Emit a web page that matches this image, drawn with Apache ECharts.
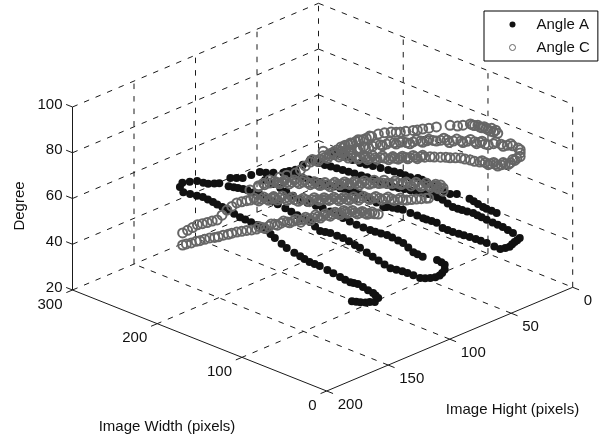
<!DOCTYPE html>
<html><head><meta charset="utf-8">
<style>html,body{margin:0;padding:0;background:#fff}#c{width:600px;height:441px}</style>
<script src="https://cdn.jsdelivr.net/npm/echarts@6/dist/echarts.min.js"></script>
</head><body><div id="c"></div>
<script>
// axis ticks
const widthTicks=[300,200,100,0];
const heightTicks=[0,50,100,150,200];
const degreeTicks=[20,40,60,80,100];
// Angle A: runs of constant image height, pairs are [width, degree]
const a1H=154;
const a1=[[37,43.4],[32,43.9],[27,44.4],[21,45.2],[16,46.1],[10,47],[6,49.3],[9,50],[12,50.6],[18,51],[24,51.5],[30,51.9],[35,51.6],[39,51.4],[45,51.6],[51,51.9],[59,52.4],[66,52.8],[75,53.2],[81,53.2],[87,53.2],[93,53.6],[98,54.1],[105,54.6],[114,55.3],[120,56.3],[128,57.6],[133,58.6],[137,59.7],[143,60],[149,60.2],[156,60.4],[163,60.6],[169,60.7],[176,61.1],[183,61.6],[190,62],[196,62.3],[201,62.6],[207,62.8],[213,63],[220,62.5],[228,62.1],[236,61.7],[240,63.4]];
const a2H=102;
const a2=[[258,49.3],[252,49.8],[247,50.2],[241,50.6],[236,50.9],[229,50.9],[221,51],[214,50.8],[207,50.4],[200,50],[191,49.6],[184,49.1],[177,48.6],[170,48.2],[162,47.8],[156,46.7],[150,45.7],[144,46.1],[138,46.5],[130,46.5],[123,46.6],[116,46.2],[109,45.6],[103,45.2],[95,44.4],[88,43.5],[81,42.9],[74,42.2],[67,41.6],[60,42],[53,42.3],[47,42.4],[40,42.5],[32,42.5],[26,43.3],[20,44.2],[14,45.5],[9,47],[6,48.5],[3,50.5],[3,52.5],[7,53],[12,53.3],[29,52.2],[35,52.4],[40,52.6],[46,53.7],[52,54.8],[58,55],[65,55.3],[71,55.5],[78,55.2],[85,54.9],[91,54.8],[99,54.7],[107,54.7],[115,55],[123,55.3],[130,55.6],[138,55.9],[147,56.2],[155,56],[165,55.8],[174,55.7],[182,56.3],[190,56.9],[197,57.5],[206,58],[215,58.4]];
const a3H=41;
const a3=[[3,50.4],[6,49],[9,47.8],[12,46.3],[15,44.8],[20,43.5],[26,42.2],[33,42.3],[42,42.5],[49,42.4],[55,42.3],[62,42.2],[69,41.9],[75,41.7],[82,41.4],[88,41.4],[94,41.4],[101,42.6],[107,42.5],[113,42.3],[117,42.3],[124,42.4],[132,42.3],[141,42.4],[147,42],[153,41.5],[160,40.8],[164,40.2],[172,41],[178,41.4],[183,41.8],[191,41.9],[197,41.9],[203,41.9],[209,41.5],[215,41],[222,40.7],[230,40.5],[239,40.2],[246,39.8],[252,39.3],[259,39],[266,38.8],[273,38.6],[280,38.5],[11,51.4],[17,51.8],[23,52.3],[29,52.4],[35,52.5],[42,52.6],[48,52.8],[53,53],[58,53.2],[65,52.9],[71,52.6],[76,52.5],[82,52.3],[88,53],[94,53.7],[100,53.9],[105,54.1],[111,53.7],[117,53.3],[125,52.8],[132,52.3],[139,51.8],[146,51.2],[153,50.7],[160,50.6],[168,50.6],[176,50.5],[183,50.5],[190,50.2],[198,49.9],[205,49.6],[212,49.4],[219,49.1],[226,48.8],[233,48.5],[240,48.3],[250,48.1]];
const a4H=15;
const a4=[[68,45.9],[74,46],[80,46],[84,46.1],[90,46.6],[95,47],[100,47.4],[115,47.3],[123,46.1],[130,46.4],[137,46.8],[143,47.1],[150,47.2],[156,47.4],[161,47.5],[170,46.5],[176,46.5],[182,46.6],[189,46.2],[196,45.8],[205,45.4],[214,44.9],[222,44.4],[229,44],[238,44],[247,44],[255,44],[262,43.9]];
// Angle A: run of constant image width, pairs are [height, degree]
const a5W=240;
const a5=[[152,64.8],[146,63.9],[140,62.9],[135,61],[131,59.6],[126,58.6],[122,57.8],[113,58.1],[108,56.9],[103,55.8],[96,55.5],[89,55.2],[84,53.8],[78,52.4],[70,50.6],[65,50.2],[60,49.7],[54,50.5],[48,51.3]];
// Angle C: runs of constant image width, pairs are [height, degree]
const c1W=170;
const c1=[[200,58.8],[197,58.6],[193,58.1],[189,57.9],[186,57.5],[182,57.2],[178,56.9],[174,56.2],[171,55.8],[167,55.6],[163,55.1],[160,54.9],[156,54.5],[152,53.9],[148,53.4],[144,52.7],[140,52.2],[135,51.7],[130,51.1],[125,50.8],[120,50.2],[115,49.6],[110,48.9],[106,48.4],[102,47.7],[98,47.1],[94,46.6],[90,46.3],[86,45.7],[82,45.1],[78,44.6],[74,44.1],[71,43.6],[68,43.3],[64,42.4],[60,41.3],[56,40.2],[52,39.2],[48,38.1],[44,37.1],[41,36.3]];
const c1b=[[138,52.8],[133,50.8],[128,51.7],[123,50],[118,50.7],[113,48.8],[108,49.3],[104,47],[100,48.3],[96,46],[92,47.4],[88,45.2],[84,46.1],[80,44.2],[76,45],[72,43],[69,44.2],[66,42.3],[62,42.6],[58,40.2],[54,40.4],[50,38.2],[46,38.3]];
const c2=[[200,64.1],[196,64.3],[192,64.6],[188,64.9],[184,64.5],[180,64.1],[176,63.8],[172,63.4],[168,64.6],[164,65.9],[160,66.6],[156,67.2],[152,66.8],[148,66.4],[145,66],[140,65],[136,64.4],[132,63.6],[128,62.9],[125,62.2],[121,61.4],[117,60.4],[113,59.2],[109,58],[104,56.8],[99,55.6],[95,54.8],[91,54],[87,53.1],[83,52.3],[79,51.4],[75,50.6],[71,49.7],[67,48.8],[63,48],[59,47.2],[55,46.4],[50,45.4],[45,44.2],[40,43],[35,41.7],[30,40.4],[25,39],[21,37.9],[18,37.2],[14,36.5],[10,35.8],[6,35.1],[2,34.4],[0,34]];
const c2b=[[142,66.2],[138,64],[134,64.8],[130,62.5],[126,63.2],[123,61],[119,61.9],[115,59],[111,59.5],[106,56.6],[102,57],[97,54.4],[93,55.2],[89,53],[85,53.4],[81,51.3],[77,51.8],[73,49.4],[69,50],[65,47.8],[61,48.4],[57,46],[53,46.8],[48,44.2],[43,44.4],[38,41.8],[33,41.9],[28,39.2],[23,39.2]];
const c3W=153;
const c3=[[0,40.9],[3,41.9],[6,43],[8,43.6],[12,44.6],[16,45.7],[20,46.9],[24,48],[29,49.5],[33,50.5],[37,51.4],[41,52.2],[45,53.2],[49,54.2],[53,55.2],[57,56],[62,57.1],[66,58.1],[70,58.9],[74,59.7],[78,60.5],[82,61.3],[86,62],[90,62.9],[94,63.6],[98,64.7],[102,65.8],[106,67],[110,68.2],[114,69.3],[119,70.5],[123,71.3],[127,72.2],[131,73],[135,73.9],[141,75],[145,75.2],[150,75.4],[157,75.6],[150,75.9],[146,76.1],[141,76.4],[133,75.7],[127,75.3],[120,74.6],[116,75],[112,75.9]];
const c3b=[[137,74.9],[133,72.9],[129,73.5],[125,71],[121,71.8],[117,69.3],[113,70],[108,66.8],[104,67.1],[100,64.6],[96,65],[92,62.3],[88,63.3],[84,61.2],[80,61.7],[76,59.7],[72,60.1],[68,57.6],[64,58.5],[60,56.1],[56,57],[52,54.6],[48,55.2],[44,52.9],[39,52.8],[34,50.1],[30,50.3],[26,47.7],[22,48.4],[18,45.5],[14,46.2],[10,43.3],[6,43.9],[4,41.5],[2,42.6],[0,39.5]];
// Angle C: upper loop, triples are [width, height, degree]
const c4=[[150,110,77.6],[148,107,78],[146,105,78.3],[144,102,78.8],[142,100,79.2],[140,97,79.3],[137,94,78.9],[135,92,78.5],[133,89,78],[131,86,77.4],[129,84,76.8],[127,81,76.3],[125,79,76],[123,76,75.7],[121,73,75.4],[119,71,75.1],[116,68,74.8],[114,66,74.6],[112,63,74.4],[110,60,74.2],[108,58,74],[106,55,73.8],[104,52,73.5],[102,50,73.2],[100,47,73],[98,45,72.7],[95,42,72.4],[93,39,72],[91,37,71.6],[89,34,71.2],[87,31,70.8],[85,29,70.1],[83,26,69.3],[81,24,68.6],[79,21,67.9],[77,18,67.3],[74,16,66.7],[72,13,66.1],[70,10,65.5],[68,8,65.7],[66,5,65.9],[64,3,66.7],[62,0,69.6],[63,1,71.8]];
const c4b=[[149,109,78.6],[147,106,77.4],[145,103,79.5],[143,101,78.2],[141,98,80.2],[138,95,78.2],[136,93,79.5],[134,90,77.2],[132,88,78.8],[130,85,76.2],[128,82,77.4],[126,80,75.4],[124,77,76.7],[122,75,75],[120,72,76.1],[117,69,74.2],[115,67,75.4],[113,64,73.9],[111,62,75],[109,59,73.5],[107,56,74.6],[105,54,73],[103,51,74.1],[78,20,68.4],[75,17,66.4],[73,14,67],[71,12,65.3],[69,9,66.4],[67,6,65.2],[65,4,67.2],[63,2,67.6],[62,0,68],[62,0,71]];
const c5=[[65,4,73.2],[67,7,73.8],[70,10,74.5],[73,14,75.2],[76,19,75.8],[79,21,76.5],[81,24,77.2],[84,28,77.8],[87,31,78.2],[90,35,78.6],[93,38,79.3],[95,42,79.8],[98,46,80.2],[101,49,80.3],[104,52,80.4],[107,56,80.5],[109,60,80.8],[112,63,81.2],[115,66,81.2],[118,70,81.1],[121,73,81.1],[124,77,80.9],[127,81,80.7],[129,84,80.5],[131,85,80.4],[135,92,80.5],[137,94,80.6],[140,98,80.7]];
const c5b=[[66,5,74.2],[69,9,73.5],[72,13,75.9],[75,17,75.1],[78,20,76.9],[80,23,76.2],[83,26,78.3],[86,30,77.4],[89,33,79.2],[92,37,78.1],[94,40,80.4],[97,44,79.6],[100,48,80.9],[103,51,79.8],[106,54,81.1],[108,58,80],[111,62,81.6],[114,65,80.6],[117,68,81.8],[120,72,80.5],[123,75,81.6],[126,79,80.2],[128,82,81.2],[130,85,79.9],[133,90,81],[136,93,80],[139,96,81.3],[142,100,80.1],[145,103,81.5]];
const c6=[[137,94,82.5],[135,92,83.1],[133,89,83.7],[131,86,84],[129,84,84.4],[126,81,85],[124,78,85.4],[122,74,85.8],[119,71,86.1],[117,67,85.9],[114,65,85.7],[112,63,85.6],[110,60,85.6],[107,56,85.5],[105,54,85.5],[103,51,85.6],[100,48,85.7],[97,44,85.8],[91,37,85.8],[88,33,85],[86,30,85],[83,26,85.1],[81,24,84.2],[79,21,83.2],[76,18,82.3],[74,16,81],[71,12,79.6]];
const c6b=[[82,25,84.6],[80,22,84],[78,20,82.8],[75,17,81.6],[73,14,80.3],[72,13,81],[74,15,82],[77,19,83.2],[136,93,82],[134,90,83],[132,88,83.5],[130,85,84.6],[128,82,84.4],[125,79,85.6]];

// 3D view: image plane position of a (width, height, degree) value
function P(w,h,z){
  const u=200-h;
  return [326.7-0.8473*w+1.23*u, 391-0.3367*w-0.5185*u-2.2875*(z-20)];
}
const INK='#1a1a1a', GRAY='#666666';
const seg=(a,b,dashed)=>({type:'line',data:[P(...a),P(...b)],showSymbol:false,silent:true,z:1,legendHoverLink:false,
  lineStyle:{color:INK,width:1,type:dashed?[5.5,7]:'solid'},symbol:'none',animation:false});
const lines=[];
const w0=0,w1=300,h0=0,h1=200,z0=20,z1=100;
// walls and floor
degreeTicks.forEach(z=>{
  if(z>z0) lines.push(seg([w1,h1,z],[w1,h0,z],true));
  if(z>z0) lines.push(seg([w1,h0,z],[w0,h0,z],true));
});
lines.push(seg([w1,h1,z0],[w1,h0,z0],true),seg([w1,h0,z0],[w0,h0,z0],true));
heightTicks.filter(h=>h<h1).forEach(h=>{
  lines.push(seg([w1,h,z0],[w1,h,z1],true));
  if(h>h0) lines.push(seg([w0,h,z0],[w1,h,z0],true));
});
widthTicks.filter(w=>w<w1).forEach(w=>{
  lines.push(seg([w,h0,z0],[w,h0,z1],true));
  if(w>w0) lines.push(seg([w,h0,z0],[w,h1,z0],true));
});
// solid axes and ticks
lines.push(seg([w1,h1,z0],[w1,h1,z1]),seg([w1,h1,z0],[w0,h1,z0]),seg([w0,h1,z0],[w0,h0,z0]));
degreeTicks.forEach(z=>lines.push(seg([w1,h1,z],[w1+7.5,h1,z])));
widthTicks.forEach(w=>lines.push(seg([w,h1,z0],[w,h1+5,z0])));
heightTicks.forEach(h=>lines.push(seg([w0,h,z0],[w0-7.5,h,z0])));

const ptsA=[...a1.map(p=>P(p[0],a1H,p[1])),...a2.map(p=>P(p[0],a2H,p[1])),...a3.map(p=>P(p[0],a3H,p[1])),...a4.map(p=>P(p[0],a4H,p[1])),...a5.map(p=>P(a5W,p[0],p[1]))];
const ptsC=[...c1,...c1b,...c2,...c2b].map(p=>P(c1W,p[0],p[1]))
  .concat([...c3,...c3b].map(p=>P(c3W,p[0],p[1])))
  .concat([...c4,...c4b,...c5,...c5b,...c6,...c6b].map(p=>P(...p)));

const FONT='15px "Liberation Sans", Arial, sans-serif';
const txt=(s,x,y,align,rot)=>({type:'text',x,y,rotation:rot||0,z:10,silent:true,
  style:{text:s,font:FONT,fill:'#111',textAlign:align,textVerticalAlign:'middle'}});
const texts=[];
degreeTicks.forEach(z=>{const p=P(w1,h1,z);texts.push(txt(String(z),p[0]-10,p[1]-2.5,'right'));});
widthTicks.forEach(w=>{const p=P(w,h1,z0);texts.push(txt(String(w),p[0]-10,p[1]+14.5,'right'));});
heightTicks.forEach(h=>{const p=P(w0,h,z0);texts.push(txt(String(h),p[0]+11,p[1]+14,'left'));});
texts.push(txt('Degree',20,206,'center',Math.PI/2));
texts.push(txt('Image Width (pixels)',167,427,'center'));
texts.push(txt('Image Hight (pixels)',512.5,410,'center'));

const chart=echarts.init(document.getElementById('c'),null,{renderer:'canvas'});
chart.setOption({
  animation:false,
  backgroundColor:'#fff',
  grid:{left:0,right:0,top:0,bottom:0},
  xAxis:{type:'value',min:0,max:600,show:false},
  yAxis:{type:'value',min:0,max:441,inverse:true,show:false},
  tooltip:{show:false},
  legend:{
    left:484,top:11,orient:'vertical',itemWidth:38,itemHeight:6,itemGap:8,
    padding:[6,8,6,25],borderColor:'#000',borderWidth:1,backgroundColor:'#fff',
    textStyle:{fontFamily:'"Liberation Sans", Arial, sans-serif',fontSize:15,color:'#111'},
    selectedMode:false,z:20,
    data:[{name:'Angle A'},{name:'Angle C',itemStyle:{borderWidth:1}}]
  },
  graphic:{elements:texts},
  series:[...lines,
    {type:'scatter',name:'Angle A',data:ptsA,symbol:'circle',symbolSize:8,z:3,silent:true,
     itemStyle:{color:'#111',opacity:1}},
    {type:'scatter',name:'Angle C',data:ptsC,symbol:'circle',symbolSize:9,z:4,silent:true,
     itemStyle:{color:'rgba(0,0,0,0)',borderColor:GRAY,borderWidth:2,opacity:1}}
  ]
});
</script></body></html>
